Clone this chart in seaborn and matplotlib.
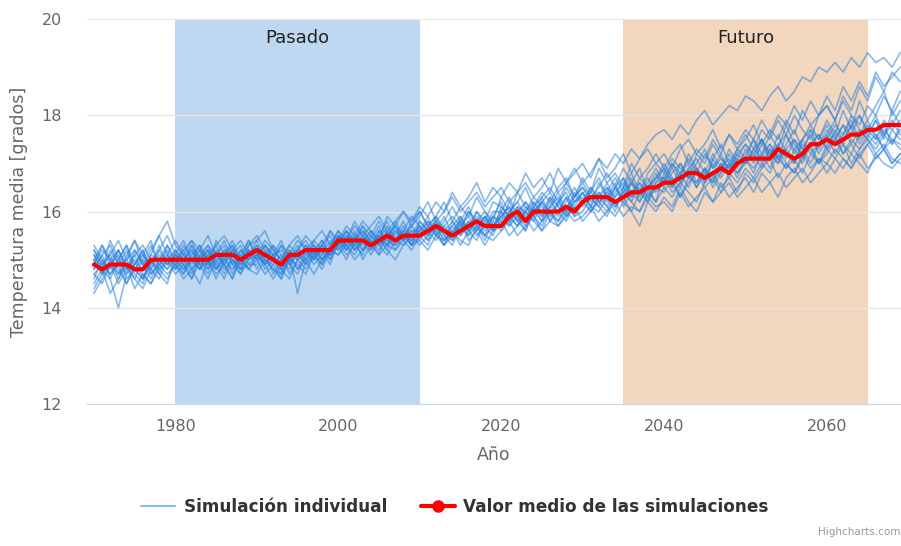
import numpy as np
import pandas as pd
import matplotlib
matplotlib.use("Agg")
import matplotlib.pyplot as plt
from matplotlib.lines import Line2D
import seaborn as sns

years = list(range(1970, 2070))

# valor medio de las simulaciones
media = [
    14.9, 14.8, 14.9, 14.9, 14.9, 14.8, 14.8, 15.0, 15.0, 15.0,
    15.0, 15.0, 15.0, 15.0, 15.0, 15.1, 15.1, 15.1, 15.0, 15.1,
    15.2, 15.1, 15.0, 14.9, 15.1, 15.1, 15.2, 15.2, 15.2, 15.2,
    15.4, 15.4, 15.4, 15.4, 15.3, 15.4, 15.5, 15.4, 15.5, 15.5,
    15.5, 15.6, 15.7, 15.6, 15.5, 15.6, 15.7, 15.8, 15.7, 15.7,
    15.7, 15.9, 16.0, 15.8, 16.0, 16.0, 16.0, 16.0, 16.1, 16.0,
    16.2, 16.3, 16.3, 16.3, 16.2, 16.3, 16.4, 16.4, 16.5, 16.5,
    16.6, 16.6, 16.7, 16.8, 16.8, 16.7, 16.8, 16.9, 16.8, 17.0,
    17.1, 17.1, 17.1, 17.1, 17.3, 17.2, 17.1, 17.2, 17.4, 17.4,
    17.5, 17.4, 17.5, 17.6, 17.6, 17.7, 17.7, 17.8, 17.8, 17.8,
]

# simulaciones individuales (valores estimados a ojo)
sim_01 = [15.2, 14.9, 14.7, 15.0, 15.3, 14.8, 14.6, 15.1, 15.0, 14.8,
          15.2, 15.0, 14.7, 15.1, 15.3, 14.9, 15.2, 15.0, 14.8, 15.3,
          15.4, 15.0, 14.8, 14.7, 15.2, 15.0, 15.3, 15.1, 15.4, 15.0,
          15.5, 15.3, 15.6, 15.2, 15.4, 15.7, 15.3, 15.5, 15.8, 15.4,
          15.6, 15.9, 15.5, 15.4, 15.8, 15.6, 16.0, 15.7, 15.5, 15.9,
          15.8, 16.2, 15.9, 15.7, 16.1, 16.3, 15.9, 16.2, 16.0, 16.4,
          16.1, 16.5, 16.2, 16.0, 16.4, 16.6, 16.3, 16.7, 16.5, 16.2,
          16.8, 16.5, 17.0, 16.7, 16.9, 16.6, 17.1, 16.8, 17.2, 16.9,
          17.3, 17.0, 17.4, 17.1, 17.6, 17.2, 17.0, 17.5, 17.7, 17.3,
          17.6, 17.9, 17.4, 17.8, 18.0, 17.6, 17.9, 17.5, 18.1, 17.8]
sim_02 = [14.8, 15.1, 15.3, 14.9, 15.0, 15.4, 15.1, 14.8, 15.2, 15.5,
          15.1, 14.9, 15.3, 15.0, 15.2, 14.8, 15.1, 15.4, 15.0, 15.2,
          15.0, 15.3, 15.1, 15.4, 15.0, 15.2, 15.5, 15.3, 15.1, 15.6,
          15.4, 15.7, 15.5, 15.8, 15.6, 15.4, 15.9, 15.7, 16.0, 15.8,
          16.1, 15.9, 16.2, 16.0, 16.4, 16.1, 16.3, 16.6, 16.2, 16.5,
          16.3, 16.6, 16.4, 16.8, 16.5, 16.7, 16.4, 16.9, 16.6, 16.8,
          17.0, 16.7, 17.1, 16.9, 17.2, 17.0, 17.3, 17.1, 17.4, 17.6,
          17.7, 17.5, 17.8, 17.6, 17.9, 18.1, 17.8, 18.0, 18.2, 18.1,
          18.4, 18.3, 18.1, 18.4, 18.6, 18.3, 18.5, 18.8, 18.7, 19.0,
          18.9, 19.1, 18.9, 19.2, 19.0, 19.3, 19.1, 19.2, 19.0, 19.3]
sim_03 = [14.5, 14.8, 14.3, 14.6, 14.9, 14.4, 14.7, 14.5, 14.8, 14.6,
          14.9, 14.6, 14.8, 14.5, 15.0, 14.7, 14.9, 14.6, 15.1, 14.8,
          14.7, 15.0, 14.8, 14.6, 15.0, 14.9, 14.7, 15.1, 14.9, 15.2,
          15.1, 15.3, 15.0, 15.2, 15.4, 15.1, 15.3, 15.2, 15.5, 15.3,
          15.4, 15.2, 15.5, 15.3, 15.6, 15.4, 15.3, 15.7, 15.5, 15.4,
          15.6, 15.8, 15.5, 15.7, 15.9, 15.6, 15.8, 15.7, 16.0, 15.8,
          15.9, 16.1, 15.8, 16.0, 16.2, 15.9, 16.1, 16.0, 16.3, 16.1,
          16.2, 16.0, 16.4, 16.1, 16.3, 16.5, 16.2, 16.4, 16.6, 16.3,
          16.5, 16.7, 16.4, 16.6, 16.8, 16.5, 16.7, 16.9, 16.6, 16.8,
          17.0, 16.8, 17.1, 16.9, 17.2, 16.9, 17.1, 17.3, 17.0, 17.2]
sim_04 = [15.3, 15.0, 14.8, 15.2, 14.9, 14.6, 15.0, 15.3, 14.9, 15.1,
          14.8, 15.2, 15.4, 15.0, 14.7, 15.1, 15.3, 14.9, 15.2, 15.0,
          15.3, 14.9, 15.1, 14.8, 15.0, 15.3, 15.0, 15.2, 14.9, 15.3,
          15.6, 15.2, 15.4, 15.7, 15.3, 15.5, 15.8, 15.4, 15.6, 15.9,
          15.7, 15.5, 15.9, 15.6, 15.4, 15.8, 16.1, 15.7, 15.9, 15.6,
          16.0, 16.3, 15.9, 16.2, 16.0, 15.8, 16.3, 16.1, 16.5, 16.2,
          16.4, 16.1, 16.6, 16.3, 16.0, 16.5, 16.8, 16.4, 16.6, 16.9,
          16.6, 17.0, 16.7, 17.2, 16.9, 16.6, 17.1, 17.4, 17.0, 17.3,
          17.1, 17.5, 17.2, 17.6, 17.3, 17.8, 17.4, 17.2, 17.7, 17.5,
          17.9, 17.6, 18.1, 17.7, 18.3, 17.9, 18.2, 18.5, 18.0, 18.3]
sim_05 = [14.4, 14.7, 15.0, 14.8, 14.5, 14.9, 15.2, 14.7, 15.0, 14.8,
          15.0, 14.8, 15.1, 15.3, 14.9, 15.2, 14.8, 15.0, 14.7, 15.1,
          15.2, 14.8, 15.0, 15.3, 14.9, 14.7, 15.1, 15.3, 15.0, 15.2,
          15.3, 15.6, 15.2, 15.5, 15.3, 15.1, 15.6, 15.4, 15.7, 15.3,
          15.5, 15.8, 15.6, 15.3, 15.7, 15.9, 15.6, 15.8, 16.0, 15.7,
          15.9, 15.7, 16.1, 15.8, 16.2, 16.0, 16.3, 15.9, 16.2, 16.5,
          16.2, 16.4, 16.7, 16.3, 16.5, 16.2, 16.6, 16.9, 16.4, 16.7,
          17.0, 16.7, 16.5, 16.9, 17.1, 16.8, 17.2, 16.9, 17.3, 17.0,
          17.2, 17.5, 17.0, 17.3, 17.1, 17.6, 17.3, 17.0, 17.4, 17.6,
          17.3, 17.7, 17.4, 17.2, 17.6, 17.9, 17.5, 17.8, 17.4, 17.7]
sim_06 = [15.0, 15.3, 14.9, 14.7, 15.1, 15.4, 14.9, 15.2, 15.5, 15.1,
          14.9, 15.3, 15.0, 15.2, 14.8, 15.4, 15.1, 15.3, 15.0, 14.8,
          15.1, 15.4, 15.2, 15.0, 14.8, 15.2, 15.4, 15.1, 15.3, 15.5,
          15.2, 15.4, 15.7, 15.5, 15.3, 15.6, 15.4, 15.8, 15.5, 15.7,
          16.0, 15.7, 15.5, 15.8, 16.1, 15.8, 15.6, 16.0, 15.8, 16.2,
          16.1, 15.9, 16.4, 16.1, 15.9, 16.3, 16.5, 16.2, 16.6, 16.3,
          16.6, 16.3, 16.5, 16.8, 16.5, 16.9, 16.6, 16.4, 16.8, 17.0,
          16.8, 17.1, 16.9, 16.7, 17.2, 17.0, 17.4, 17.1, 16.9, 17.3,
          17.6, 17.3, 17.7, 17.5, 17.9, 17.6, 18.0, 17.7, 17.5, 18.0,
          18.2, 17.9, 18.4, 18.1, 18.6, 18.3, 18.8, 18.5, 18.9, 18.7]
sim_07 = [14.7, 14.5, 14.9, 15.2, 14.8, 15.0, 14.6, 14.9, 15.3, 14.9,
          15.1, 15.4, 15.0, 14.8, 15.2, 15.0, 14.7, 15.1, 15.3, 14.9,
          14.9, 15.2, 14.7, 15.0, 15.3, 15.1, 14.9, 15.2, 15.4, 15.1,
          15.4, 15.1, 15.3, 15.5, 15.2, 15.6, 15.4, 15.3, 15.6, 15.5,
          15.8, 15.6, 15.4, 15.7, 15.5, 15.9, 15.6, 15.4, 15.8, 15.6,
          15.7, 16.0, 15.8, 16.1, 15.9, 15.7, 16.1, 16.0, 15.8, 16.2,
          16.3, 16.0, 16.2, 16.4, 16.1, 16.3, 16.0, 16.4, 16.2, 16.5,
          16.4, 16.7, 16.3, 16.6, 16.8, 16.5, 16.7, 16.4, 16.8, 16.6,
          16.9, 16.7, 17.0, 16.8, 17.2, 16.9, 17.1, 16.8, 17.2, 17.0,
          17.3, 17.1, 17.4, 17.0, 17.3, 17.5, 17.2, 17.4, 17.1, 17.0]
sim_08 = [15.1, 14.8, 15.4, 15.0, 14.7, 15.2, 14.9, 14.6, 15.0, 15.3,
          15.0, 14.7, 15.2, 14.9, 15.1, 15.3, 14.9, 15.2, 15.0, 15.4,
          15.0, 15.1, 15.3, 14.9, 15.1, 14.8, 15.2, 15.0, 15.3, 15.1,
          15.5, 15.3, 15.1, 15.4, 15.6, 15.3, 15.5, 15.2, 15.4, 15.7,
          15.5, 15.7, 15.9, 15.6, 15.8, 15.5, 15.7, 16.0, 15.7, 15.5,
          15.9, 16.1, 15.8, 16.0, 16.3, 16.1, 15.8, 16.2, 16.4, 16.0,
          16.2, 16.5, 16.3, 16.6, 16.2, 16.4, 16.7, 16.3, 16.5, 16.8,
          16.5, 16.8, 17.0, 16.7, 17.0, 17.3, 16.9, 17.2, 16.8, 17.1,
          17.4, 17.1, 17.5, 17.2, 17.0, 17.4, 17.7, 17.3, 17.6, 17.2,
          17.5, 17.8, 17.6, 18.0, 17.7, 17.5, 17.9, 17.6, 17.8, 18.1]
sim_09 = [14.9, 15.2, 15.0, 14.6, 15.0, 14.8, 15.1, 15.4, 14.8, 15.0,
          15.2, 14.9, 14.6, 15.0, 15.2, 14.8, 15.0, 15.3, 14.9, 15.1,
          15.3, 15.0, 14.9, 15.1, 14.7, 15.0, 15.2, 14.9, 15.1, 15.4,
          15.2, 15.5, 15.3, 15.6, 15.4, 15.2, 15.5, 15.7, 15.4, 15.6,
          15.4, 15.7, 15.6, 15.9, 15.5, 15.7, 16.0, 15.8, 15.6, 15.9,
          16.2, 15.8, 16.0, 16.2, 15.9, 16.2, 16.4, 16.1, 15.9, 16.3,
          16.5, 16.2, 16.4, 16.1, 16.5, 16.3, 16.6, 16.4, 16.7, 16.4,
          16.6, 16.9, 16.6, 16.8, 16.5, 16.9, 16.7, 17.0, 16.7, 17.1,
          17.0, 17.3, 17.1, 17.4, 17.1, 16.9, 17.3, 17.5, 17.2, 17.4,
          17.7, 17.4, 17.6, 17.9, 17.5, 17.8, 17.6, 17.3, 17.7, 17.5]
sim_10 = [14.6, 15.0, 14.7, 14.9, 14.5, 14.8, 15.0, 14.7, 14.9, 15.2,
          14.8, 15.0, 15.3, 14.9, 14.6, 15.0, 15.2, 14.9, 14.7, 15.0,
          15.2, 14.9, 15.1, 14.8, 14.6, 15.0, 14.8, 15.1, 15.3, 15.0,
          15.3, 15.0, 15.4, 15.2, 15.5, 15.3, 15.1, 15.4, 15.6, 15.3,
          15.7, 15.4, 15.6, 15.3, 15.5, 15.8, 15.5, 15.7, 15.4, 15.8,
          15.6, 15.9, 15.7, 16.0, 15.8, 15.6, 16.0, 15.8, 16.1, 15.9,
          16.0, 16.3, 16.1, 15.9, 16.3, 16.5, 16.2, 16.0, 16.4, 16.2,
          16.5, 16.3, 16.6, 16.4, 16.2, 16.6, 16.8, 16.5, 16.7, 16.4,
          16.8, 16.6, 16.9, 17.1, 16.7, 17.0, 16.8, 17.2, 16.9, 17.1,
          17.0, 17.3, 17.1, 16.9, 17.2, 17.4, 17.1, 17.3, 17.0, 17.2]
sim_11 = [15.2, 14.9, 15.1, 15.4, 15.0, 15.2, 14.9, 15.1, 15.5, 15.8,
          15.3, 15.1, 15.4, 15.2, 15.0, 15.3, 15.5, 15.2, 15.4, 15.1,
          15.4, 15.6, 15.2, 15.0, 15.3, 15.5, 15.2, 15.4, 15.6, 15.3,
          15.6, 15.4, 15.8, 15.5, 15.7, 15.9, 15.6, 15.8, 16.0, 15.7,
          15.9, 16.2, 15.8, 16.0, 16.3, 16.0, 16.2, 16.4, 16.1, 16.3,
          16.5, 16.2, 16.4, 16.6, 16.3, 16.5, 16.8, 16.4, 16.6, 16.9,
          16.6, 16.8, 17.1, 16.7, 16.9, 17.2, 16.8, 17.1, 17.3, 17.0,
          17.2, 16.9, 17.3, 17.5, 17.2, 17.4, 17.7, 17.3, 17.6, 17.4,
          17.7, 17.5, 17.9, 17.6, 18.0, 17.8, 18.2, 17.9, 18.3, 18.0,
          18.4, 18.1, 18.6, 18.3, 18.7, 18.4, 18.9, 18.6, 18.8, 19.0]
sim_12 = [14.3, 14.6, 14.9, 14.5, 14.8, 15.1, 14.7, 14.5, 14.9, 14.7,
          14.9, 14.7, 15.0, 14.8, 15.1, 14.9, 14.6, 15.0, 14.8, 15.2,
          14.8, 15.1, 15.0, 14.7, 15.0, 15.2, 14.9, 15.1, 14.8, 15.2,
          15.4, 15.2, 15.5, 15.0, 15.3, 15.5, 15.2, 15.6, 15.4, 15.2,
          15.5, 15.3, 15.7, 15.4, 15.6, 15.3, 15.6, 15.8, 15.5, 15.7,
          16.0, 15.7, 15.9, 15.6, 16.0, 16.2, 15.8, 16.0, 16.3, 16.0,
          16.2, 16.0, 16.3, 16.5, 16.1, 16.4, 16.2, 16.6, 16.3, 16.5,
          16.7, 16.4, 16.6, 16.9, 16.5, 16.8, 16.6, 16.9, 17.1, 16.8,
          17.0, 17.2, 16.9, 17.3, 17.0, 17.3, 17.5, 17.1, 17.4, 17.6,
          17.3, 17.5, 17.8, 17.4, 17.7, 17.5, 17.3, 17.6, 17.9, 17.6]
sim_13 = [15.0, 14.7, 15.2, 14.9, 15.2, 14.7, 14.5, 15.0, 14.7, 14.5,
          15.1, 14.8, 15.0, 15.3, 15.0, 14.8, 15.1, 14.7, 15.2, 15.0,
          15.1, 14.9, 15.3, 15.1, 14.9, 15.1, 15.0, 15.4, 15.2, 14.9,
          15.4, 15.6, 15.3, 15.1, 15.5, 15.3, 15.6, 15.3, 15.5, 15.4,
          15.6, 15.4, 15.8, 15.5, 15.3, 15.7, 15.9, 15.6, 15.9, 15.7,
          15.9, 16.1, 15.8, 15.6, 16.1, 15.9, 16.1, 16.3, 15.9, 16.1,
          16.4, 16.1, 16.0, 16.3, 16.6, 16.1, 16.4, 16.6, 16.3, 16.6,
          16.7, 16.5, 16.8, 17.0, 16.6, 16.9, 16.6, 17.0, 16.8, 17.2,
          17.0, 17.3, 17.5, 17.1, 17.4, 17.1, 17.5, 17.3, 17.0, 17.4,
          17.6, 17.2, 17.5, 17.8, 17.4, 17.7, 18.0, 17.6, 17.4, 17.8]
sim_14 = [14.8, 15.1, 14.6, 14.0, 14.7, 14.9, 15.2, 14.8, 14.6, 15.0,
          14.7, 14.9, 14.6, 15.0, 14.8, 15.1, 14.9, 14.6, 15.0, 14.8,
          15.0, 14.7, 14.9, 14.6, 15.1, 14.8, 15.0, 14.7, 15.0, 15.2,
          15.1, 15.4, 15.2, 15.4, 15.1, 15.4, 15.2, 15.0, 15.3, 15.5,
          15.3, 15.5, 15.7, 15.4, 15.6, 15.8, 15.4, 15.6, 15.3, 15.6,
          15.8, 15.5, 15.7, 15.9, 15.6, 15.8, 16.0, 15.7, 15.9, 16.1,
          15.8, 16.0, 16.3, 16.1, 15.9, 16.2, 16.0, 15.7, 16.2, 16.0,
          16.3, 16.1, 16.5, 16.2, 16.0, 16.4, 16.2, 16.6, 16.3, 16.5,
          16.7, 16.4, 16.8, 16.6, 16.3, 16.7, 16.9, 16.6, 16.8, 17.1,
          16.8, 17.1, 16.9, 17.2, 17.0, 16.8, 17.2, 17.0, 16.9, 17.1]
sim_15 = [14.9, 15.3, 15.0, 15.2, 14.8, 15.1, 15.3, 15.0, 14.7, 15.1,
          15.4, 15.1, 14.9, 15.2, 15.5, 15.1, 14.9, 15.2, 15.0, 15.3,
          15.5, 15.2, 15.0, 15.3, 15.1, 15.4, 15.2, 15.0, 15.3, 15.6,
          15.3, 15.6, 15.4, 15.7, 15.5, 15.8, 15.5, 15.7, 15.4, 15.8,
          16.0, 15.7, 15.9, 16.2, 15.8, 16.1, 15.9, 16.3, 16.0, 15.8,
          16.3, 16.0, 16.2, 16.5, 16.1, 16.4, 16.2, 16.5, 16.7, 16.3,
          16.7, 16.4, 16.9, 16.6, 16.8, 16.5, 17.0, 16.7, 16.9, 17.2,
          16.9, 17.2, 17.4, 17.0, 17.3, 17.1, 17.5, 17.2, 17.6, 17.3,
          17.5, 17.8, 17.4, 17.7, 17.5, 17.9, 17.6, 18.1, 17.8, 18.0,
          18.2, 17.9, 18.3, 18.0, 17.8, 18.2, 18.0, 18.4, 18.1, 18.5]
sim_16 = [15.1, 14.8, 14.6, 15.0, 15.3, 14.9, 15.1, 14.9, 15.2, 14.9,
          15.0, 15.2, 14.8, 15.1, 14.9, 15.1, 15.4, 15.0, 14.9, 15.2,
          15.0, 15.3, 15.1, 15.2, 14.9, 15.2, 15.1, 15.3, 15.0, 15.2,
          15.5, 15.2, 15.4, 15.6, 15.3, 15.5, 15.3, 15.6, 15.4, 15.6,
          15.6, 15.8, 15.5, 15.7, 15.9, 15.7, 15.5, 15.9, 15.7, 16.0,
          16.0, 15.8, 16.1, 16.0, 15.8, 16.2, 16.0, 15.8, 16.1, 16.3,
          16.5, 16.3, 16.1, 16.5, 16.3, 16.7, 16.4, 16.2, 16.5, 16.7,
          16.9, 16.6, 16.8, 16.5, 16.9, 16.7, 17.0, 16.7, 17.0, 16.8,
          17.1, 16.9, 17.2, 17.4, 17.1, 17.3, 17.0, 17.4, 17.3, 17.0,
          17.4, 17.6, 17.2, 17.5, 17.3, 17.6, 17.4, 17.7, 17.5, 17.3]
sim_17 = [14.7, 14.9, 15.1, 14.7, 14.9, 14.6, 14.4, 14.8, 15.1, 14.9,
          15.1, 15.0, 15.2, 14.8, 15.0, 14.6, 15.0, 15.2, 14.8, 14.9,
          15.1, 14.9, 14.6, 14.9, 15.2, 15.0, 15.3, 15.0, 15.2, 15.1,
          15.3, 15.5, 15.2, 15.4, 15.2, 15.4, 15.7, 15.4, 15.3, 15.5,
          15.7, 15.5, 15.8, 15.6, 15.4, 15.6, 15.8, 15.5, 15.7, 15.9,
          15.7, 16.0, 16.2, 15.9, 16.1, 15.8, 16.1, 16.4, 16.0, 16.2,
          16.4, 16.1, 16.4, 16.2, 16.5, 16.7, 16.3, 16.5, 16.2, 16.6,
          16.9, 16.6, 16.3, 16.7, 16.6, 16.9, 16.5, 16.8, 17.0, 16.7,
          17.1, 16.8, 17.2, 16.9, 17.3, 17.0, 16.8, 17.1, 17.4, 17.0,
          17.2, 17.5, 17.2, 17.4, 17.1, 17.4, 17.6, 17.3, 17.5, 17.4]
sim_18 = [15.0, 14.7, 14.9, 15.1, 14.6, 14.8, 14.6, 15.0, 14.8, 15.3,
          14.9, 15.1, 14.8, 15.0, 15.3, 15.1, 15.0, 14.8, 15.1, 15.4,
          15.1, 15.3, 15.0, 14.8, 15.1, 14.3, 15.0, 15.2, 15.0, 15.3,
          15.5, 15.3, 15.5, 15.3, 15.6, 15.4, 15.3, 15.7, 15.5, 15.3,
          15.8, 15.6, 15.8, 15.5, 15.7, 15.5, 15.8, 15.6, 15.9, 15.6,
          16.1, 15.9, 15.7, 16.0, 16.2, 15.9, 16.2, 16.0, 16.3, 15.9,
          16.2, 16.4, 16.2, 16.4, 16.7, 16.4, 16.6, 16.2, 16.5, 16.7,
          16.7, 17.0, 16.8, 17.1, 16.8, 17.2, 16.9, 17.1, 16.9, 17.2,
          17.4, 17.2, 17.5, 17.2, 17.4, 17.6, 17.2, 17.5, 17.8, 17.5,
          17.8, 17.5, 17.8, 17.6, 18.0, 17.7, 17.5, 17.9, 17.7, 17.9]

simulaciones = [sim_01, sim_02, sim_03, sim_04, sim_05, sim_06, sim_07, sim_08, sim_09,
                sim_10, sim_11, sim_12, sim_13, sim_14, sim_15, sim_16, sim_17, sim_18]

periodos = [("Pasado", 1980, 2010, "#bfd8f1"), ("Futuro", 2035, 2065, "#f2d6bd")]

df = pd.DataFrame({
    "anio": years * len(simulaciones),
    "temp": np.concatenate(simulaciones),
    "sim": np.repeat(np.arange(len(simulaciones)), len(years)),
})

sns.set_style("white")
plt.rcParams["font.family"] = ["DejaVu Sans"]

fig = plt.figure(figsize=(9.01, 5.46), dpi=100)
ax = fig.add_axes([0.0966, 0.26, 0.9034, 0.705])

for nombre, x0, x1, col in periodos:
    ax.axvspan(x0, x1, color=col, zorder=0, lw=0)
    ax.text((x0 + x1) / 2, 19.6, nombre, ha="center", va="center", fontsize=13, color="#222222")

sns.lineplot(data=df, x="anio", y="temp", units="sim", estimator=None,
             color="#2a82dc", alpha=0.55, lw=1.2, ax=ax, legend=False, zorder=2)
sns.lineplot(x=years, y=media, color="#ff0000", lw=3.0, ax=ax, zorder=3)

ax.set_xlim(1969.15, 2069.1)
ax.set_ylim(12, 20)
ax.set_yticks([12, 14, 16, 18, 20])
ax.set_xticks([1980, 2000, 2020, 2040, 2060])
ax.yaxis.grid(True, color="#e6e6e6", lw=1)
ax.set_axisbelow(True)
for s in ["top", "right", "left"]:
    ax.spines[s].set_visible(False)
ax.spines["bottom"].set_color("#ccd6eb")
ax.spines["bottom"].set_zorder(5)
ax.tick_params(axis="x", colors="#ccd6eb", length=7, width=1, pad=4, labelcolor="#666666", labelsize=11.5)
ax.tick_params(axis="y", length=0, pad=18, labelcolor="#666666", labelsize=11.5)

ax.set_xlabel("Año", fontsize=12.5, color="#666666")
ax.set_ylabel("Temperatura media [grados]", fontsize=12.5, color="#666666")
ax.xaxis.set_label_coords(0.5, -0.11)
ax.yaxis.set_label_coords(-0.072, 0.5)

handles = [
    Line2D([], [], color="#8fbbe9", lw=1.5),
    Line2D([], [], color="#ff0000", lw=3.0, marker="o", markersize=8),
]
fig.legend(handles, ["Simulación individual", "Valor medio de las simulaciones"],
           loc="center", bbox_to_anchor=(0.505, 0.071), ncol=2, frameon=False,
           prop={"weight": "bold", "size": 12.2}, labelcolor="#333333",
           handlelength=2.0, handletextpad=0.5, columnspacing=2.0)

fig.text(0.9995, 0.016, "Highcharts.com", ha="right", va="bottom", fontsize=7.5, color="#999999")

fig.savefig("out.png", dpi=100)
